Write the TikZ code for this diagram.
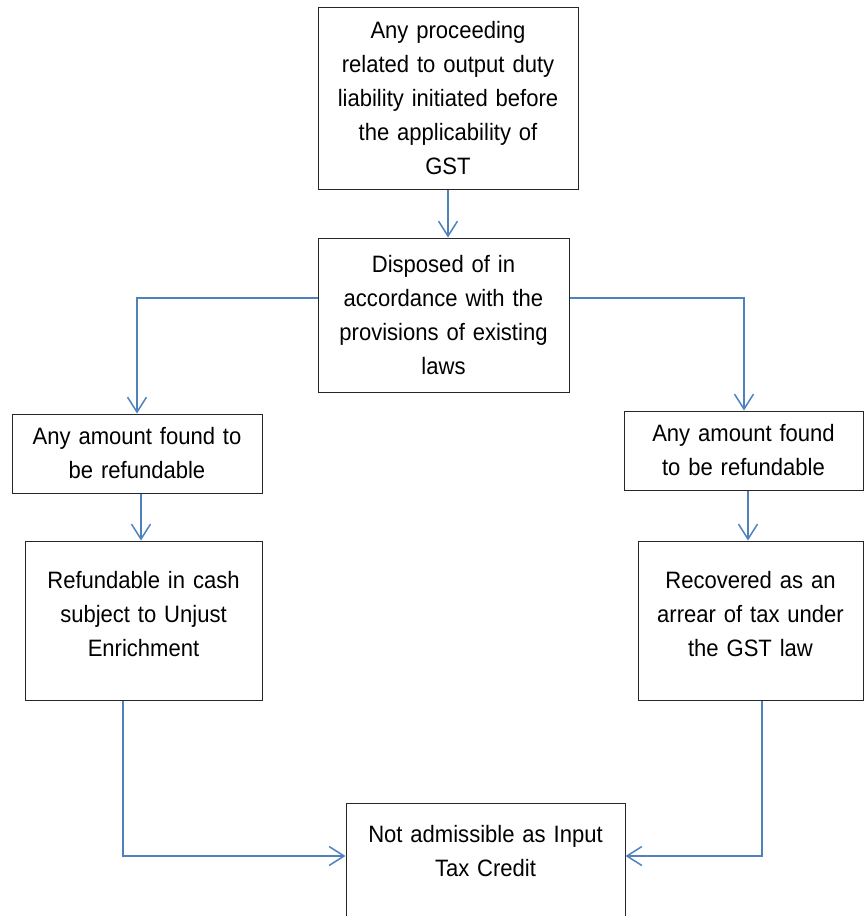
\documentclass[tikz,border=0pt]{standalone}
\usepackage{fontspec}
\setmainfont[FakeStretch=0.93]{Liberation Sans}
\usetikzlibrary{arrows.meta}
\definecolor{flowblue}{RGB}{79,129,189}
\tikzset{
  box/.style={draw=black!85, line width=1pt, fill=white, align=center, inner sep=0pt,
    font=\fontsize{23.7}{34}\selectfont},
  flow/.style={draw=flowblue, line width=1.5pt, -{Straight Barb[length=15pt,width=19pt]}}
}
\begin{document}
\begin{tikzpicture}[x=1pt,y=-1pt]
\useasboundingbox (0,0) rectangle (865,916);

\node[box, minimum width=260pt, minimum height=182pt, text width=250pt] (proc) at (448,98)
  {Any proceeding\\related to output duty\\liability initiated before\\the applicability of\\GST};
\node[box, minimum width=251pt, minimum height=154pt, text width=241pt] (disp) at (443.5,315)
  {Disposed of in\\accordance with the\\provisions of existing\\laws};
\node[box, minimum width=250pt, minimum height=79pt, text width=240pt] (refL) at (137,453.5)
  {Any amount found to\\be refundable};
\node[box, minimum width=239pt, minimum height=79pt, text width=229pt] (refR) at (743.5,450.5)
  {Any amount found\\to be refundable};
\node[box, minimum width=237pt, minimum height=159pt, text width=227pt] (cashL) at (143.5,620.5)
  {Refundable in cash\\subject to Unjust\\Enrichment\par\kern12pt};
\node[box, minimum width=225pt, minimum height=159pt, text width=215pt] (recR) at (750.5,620.5)
  {Recovered as an\\arrear of tax under\\the GST law\par\kern12pt};
\node[box, anchor=north, minimum width=279pt, inner ysep=22pt, text width=269pt] (nadm) at (485.5,803)
  {Not admissible as Input\\Tax Credit\par\kern100pt};

\draw[flow] (proc.south) -- (proc.south |- disp.north);
\draw[flow] ([yshift=17pt]disp.west) -| (refL.north);
\draw[flow] ([yshift=17pt]disp.east) -| ([xshift=0.5pt]refR.north);
\draw[flow] ([xshift=4pt]refL.south) -- ([xshift=4pt]refL.south |- cashL.north);
\draw[flow] ([xshift=-2.5pt]recR.north |- refR.south) -- ([xshift=-2.5pt]recR.north);
\draw[flow] ([xshift=-20.5pt]cashL.south) |- ([yshift=-53pt]nadm.north west);
\draw[flow] ([xshift=11.5pt]recR.south) |- ([yshift=-53pt]nadm.north east);
\end{tikzpicture}
\end{document}
